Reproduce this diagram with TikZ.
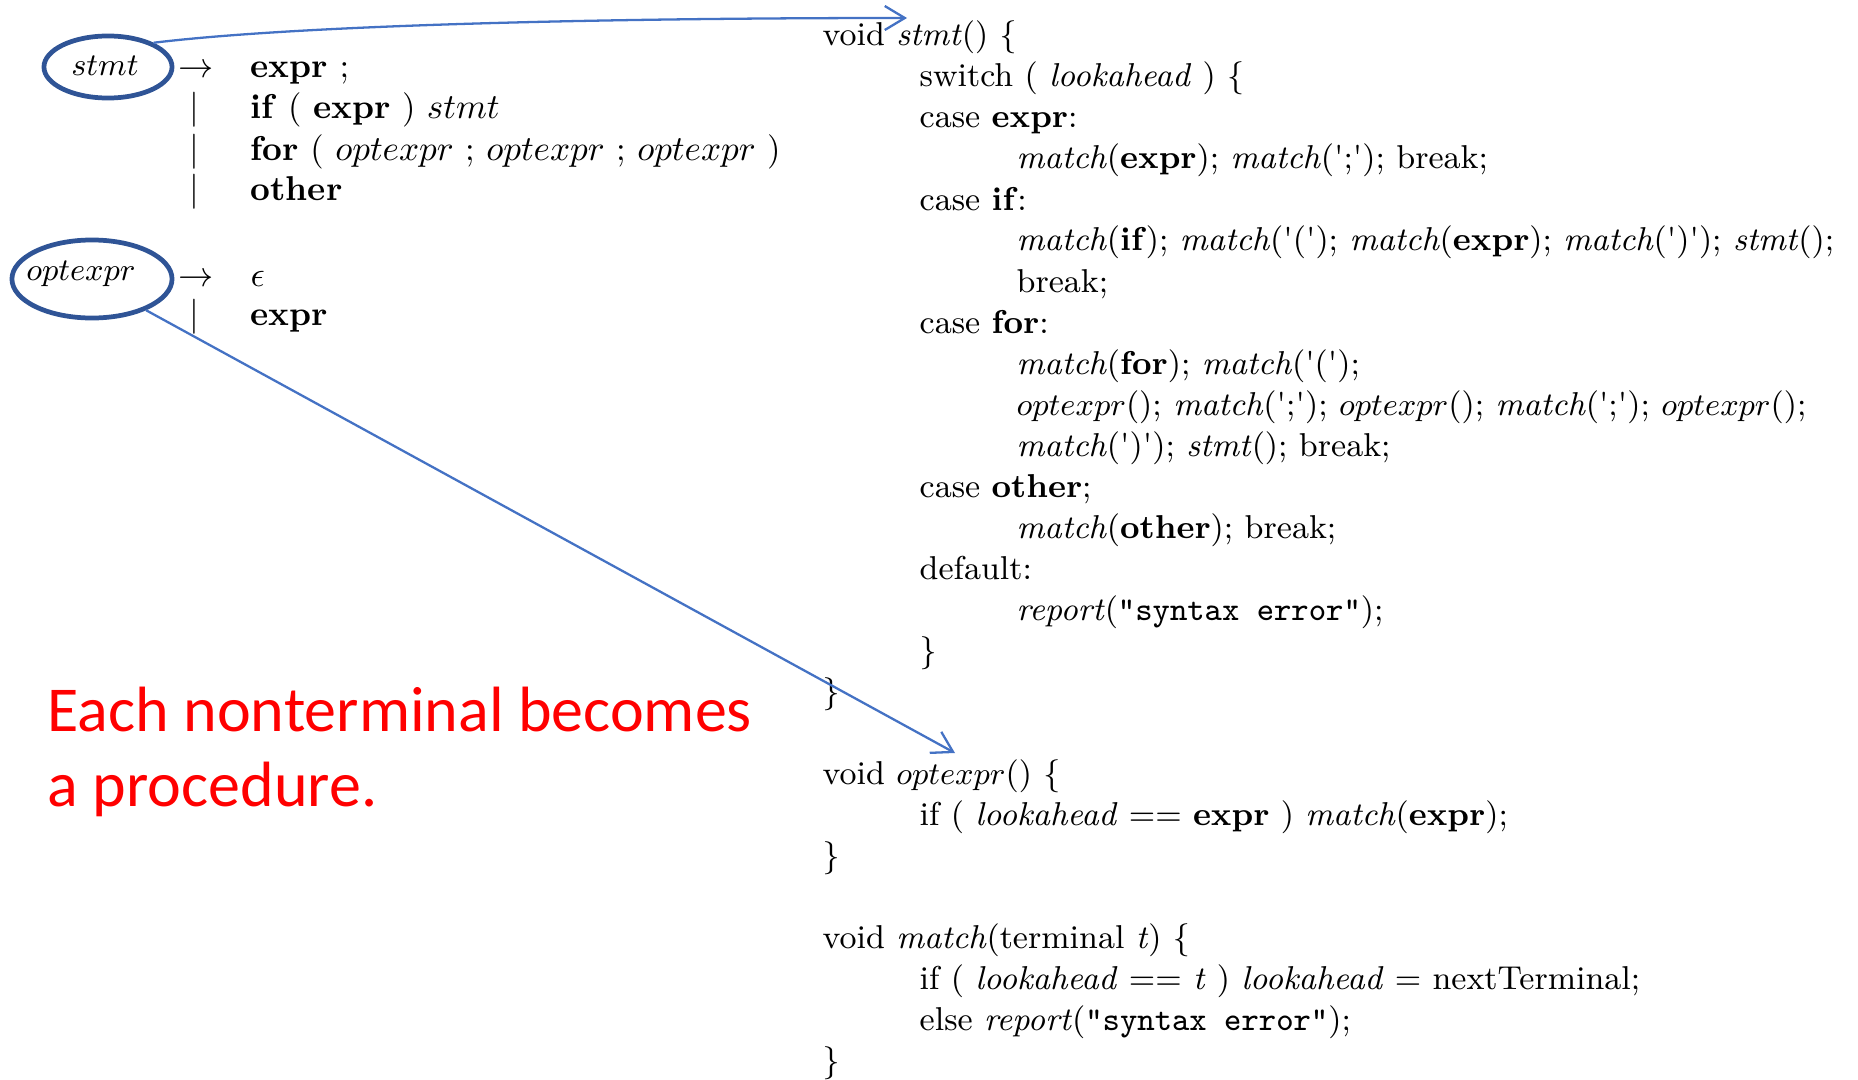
\documentclass[tikz,border=0pt]{standalone}
\usepackage{fontspec}
\newfontfamily\calib{Carlito}
\usepackage{tikz}
\usetikzlibrary{shapes.geometric}
\usetikzlibrary{arrows.meta}
\definecolor{ntblue}{RGB}{47,84,150}
\definecolor{linkblue}{RGB}{68,114,196}
\newcommand{\sq}{\textquotesingle}

\begin{document}
\begin{tikzpicture}[x=0.01cm, y=-0.01cm,
  nt/.style={draw=ntblue, line width=1.35pt, ellipse, inner sep=0},
  link/.style={linkblue, line width=0.65pt, -{Straight Barb[length=2mm,width=2.4mm]}},
  code/.style={anchor=base west, inner sep=0, font=\fontsize{9.4}{11}\selectfont},
  gram/.style={anchor=base west, inner sep=0, font=\fontsize{9.8}{12}\selectfont},
  ntlab/.style={anchor=base, inner sep=0, font=\fontsize{9.5}{11}\selectfont},
  note/.style={anchor=base west, inner sep=0, red, font=\calib\fontsize{18.2}{22}\selectfont}]
\useasboundingbox (0,0) rectangle (1858,1079);

\node[nt, minimum width=1.28cm, minimum height=0.62cm] (stmtnt) at (108,67) {};
\node[ntlab] (stmtlab) at (105,76) {$stmt$};
\node[nt, minimum width=1.60cm, minimum height=0.78cm] (optnt) at (92,279) {};
\node[ntlab] (optlab) at (81,281) {$optexpr$};

\node[gram] (arr1) at (178,78) {$\rightarrow$};
\node[gram] (p1) at (250,78) {\textbf{expr} ;};
\node[gram] (p2) at (250,119) {\textbf{if} ( \textbf{expr} ) $stmt$};
\node[gram] (p3) at (250,160) {\textbf{for} ( $optexpr$ ; $optexpr$ ; $optexpr$ )};
\node[gram] (p4) at (250,201) {\textbf{other}};
\node[gram] (arr2) at (178,286) {$\rightarrow$};
\node[gram] (p5) at (250,286) {$\epsilon$};
\node[gram] (p6) at (250,325) {\textbf{expr}};
\foreach \y/\n in {119/2,160/3,201/4,325/6}
 \node[gram] (bar\n) at (189,\y) {$|$};

\foreach \n/\lvl/\txt in {
 0/0/{void \textit{stmt}() \{},
 1/1/{switch ( \textit{lookahead} ) \{},
 2/1/{case \textbf{expr}:},
 3/2/{\textit{match}(\textbf{expr}); \textit{match}(\sq;\sq); break;},
 4/1/{case \textbf{if}:},
 5/2/{\textit{match}(\textbf{if}); \textit{match}(\sq(\sq); \textit{match}(\textbf{expr}); \textit{match}(\sq)\sq); \textit{stmt}();},
 6/2/{break;},
 7/1/{case \textbf{for}:},
 8/2/{\textit{match}(\textbf{for}); \textit{match}(\sq(\sq);},
 9/2/{$optexpr$(); \textit{match}(\sq;\sq); $optexpr$(); \textit{match}(\sq;\sq); $optexpr$();},
 10/2/{\textit{match}(\sq)\sq); \textit{stmt}(); break;},
 11/1/{case \textbf{other};},
 12/2/{\textit{match}(\textbf{other}); break;},
 13/1/{default:},
 14/2/{\textit{report}(\texttt{"syntax error"});},
 15/1/{\}},
 16/0/{\}},
 18/0/{void $optexpr$() \{},
 19/1/{if ( \textit{lookahead} == \textbf{expr} ) \textit{match}(\textbf{expr});},
 20/0/{\}},
 22/0/{void \textit{match}(terminal \textit{t}) \{},
 23/1/{if ( \textit{lookahead} == \textit{t} ) \textit{lookahead} = nextTerminal;},
 24/1/{else \textit{report}(\texttt{"syntax error"});},
 25/0/{\}}}
 \node[code] (c\n) at (822+97*\lvl, 46+41*\n) {\txt};

\node[note] (msg1) at (47,731) {Each nonterminal becomes};
\node[note] (msg2) at (47,806) {a procedure.};

\coordinate (stmtend) at (907,18);
\coordinate (optend) at (955,753);
\draw[link] (stmtnt.28) .. controls (300,25) and (600,18) .. (stmtend);
\draw[link] (optnt.-30) -- (optend);
\end{tikzpicture}
\end{document}
